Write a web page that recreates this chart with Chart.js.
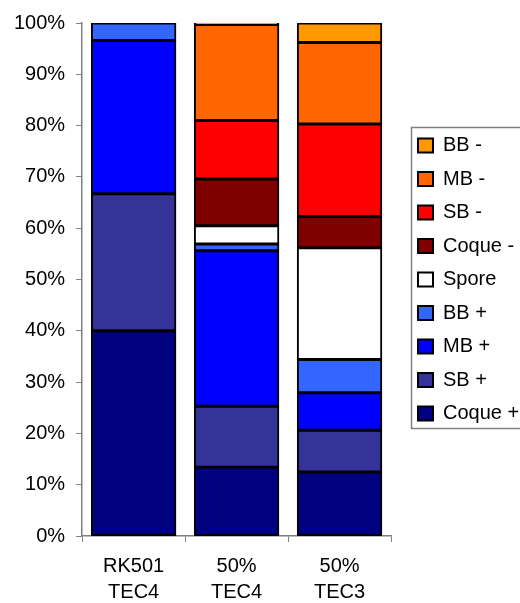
<!DOCTYPE html>
<html>
<head>
<meta charset="utf-8">
<script src="https://cdn.jsdelivr.net/npm/chart.js"></script>
<style>
  html, body { margin: 0; padding: 0; background: #fff; }
  #wrap { width: 520px; height: 603px; }
</style>
</head>
<body>
<div id="wrap"><canvas id="sporeChart" width="520" height="603"></canvas></div>
<script>
// categories (two-line labels)
const categories = [['RK501', 'TEC4'], ['50%', 'TEC4'], ['50%', 'TEC3']];

// series values, % of total per bar
const coquePlus = [40.0, 13.4, 12.5];
const sbPlus    = [26.7, 11.9, 8.1];
const mbPlus    = [29.9, 30.3, 7.3];
const bbPlus    = [3.4, 1.3, 6.5];
const spore     = [0, 3.6, 21.8];
const coqueMin  = [0, 9.1, 6.1];
const sbMin     = [0, 11.4, 18.0];
const mbMin     = [0, 18.7, 15.9];
const bbMin     = [0, 0.3, 3.8];

const seriesNames  = ['Coque +', 'SB +', 'MB +', 'BB +', 'Spore', 'Coque -', 'SB -', 'MB -', 'BB -'];
const seriesValues = [coquePlus, sbPlus, mbPlus, bbPlus, spore, coqueMin, sbMin, mbMin, bbMin];
const seriesColors = ['#000080', '#333399', '#0000FF', '#3366FF', '#FFFFFF', '#800000', '#FF0000', '#FF6600', '#FF9900'];

const FONT = '"Liberation Sans", Arial, sans-serif';

// push the legend a bit away from the plot area
const legendShift = {
    id: 'legendShift',
    afterLayout(chart) {
        chart.legend.left += 13.5;
        chart.legend.right += 13.5;
    }
};

// grey frame around legend, open on the right (runs off the canvas)
const legendFrame = {
    id: 'legendFrame',
    afterDraw(chart) {
        const boxes = chart.legend.legendHitBoxes;
        if (!boxes || !boxes.length) return;
        const first = boxes[0], last = boxes[boxes.length - 1];
        const ctx = chart.ctx;
        ctx.save();
        ctx.strokeStyle = '#808080';
        ctx.lineWidth = 1.5;
        ctx.strokeRect(first.left - 6.5, first.top - 8, 200, last.top + last.height + 5 - (first.top - 8));
        ctx.restore();
    }
};

const ctx = document.getElementById('sporeChart').getContext('2d');
const sporeChart = new Chart(ctx, {
    type: 'bar',
    data: {
        labels: categories,
        datasets: seriesNames.map((name, i) => ({
            label: name,
            data: seriesValues[i],
            backgroundColor: seriesColors[i],
            borderColor: '#000000',
            borderWidth: 2,
            borderSkipped: false,
            inflateAmount: 0.5,
            categoryPercentage: 1.0,
            barPercentage: 0.82
        }))
    },
    options: {
        responsive: false,
        animation: false,
        layout: { padding: { left: 3, right: 4.3, top: 10, bottom: -13 } },
        plugins: {
            tooltip: { enabled: false },
            legend: {
                position: 'right',
                fullSize: false,
                reverse: true,
                labels: {
                    color: '#000',
                    font: { family: FONT, size: 20 },
                    boxWidth: 15,
                    boxHeight: 14,
                    padding: 13.5
                }
            }
        },
        scales: {
            x: {
                stacked: true,
                grid: { display: true, drawOnChartArea: false, color: '#808080', tickLength: 6, offset: true },
                border: { color: '#808080', width: 1.5 },
                ticks: {
                    color: '#000',
                    font: { family: FONT, size: 20, lineHeight: 1.3 },
                    padding: 11,
                    maxRotation: 0
                }
            },
            y: {
                stacked: true,
                min: 0,
                max: 100,
                grid: { display: true, drawOnChartArea: false, color: '#808080', tickLength: 6 },
                border: { color: '#808080', width: 1.5 },
                ticks: {
                    stepSize: 10,
                    color: '#000',
                    font: { family: FONT, size: 20 },
                    padding: 11,
                    callback: v => v + '%'
                }
            }
        }
    },
    plugins: [legendShift, legendFrame]
});
</script>
</body>
</html>
